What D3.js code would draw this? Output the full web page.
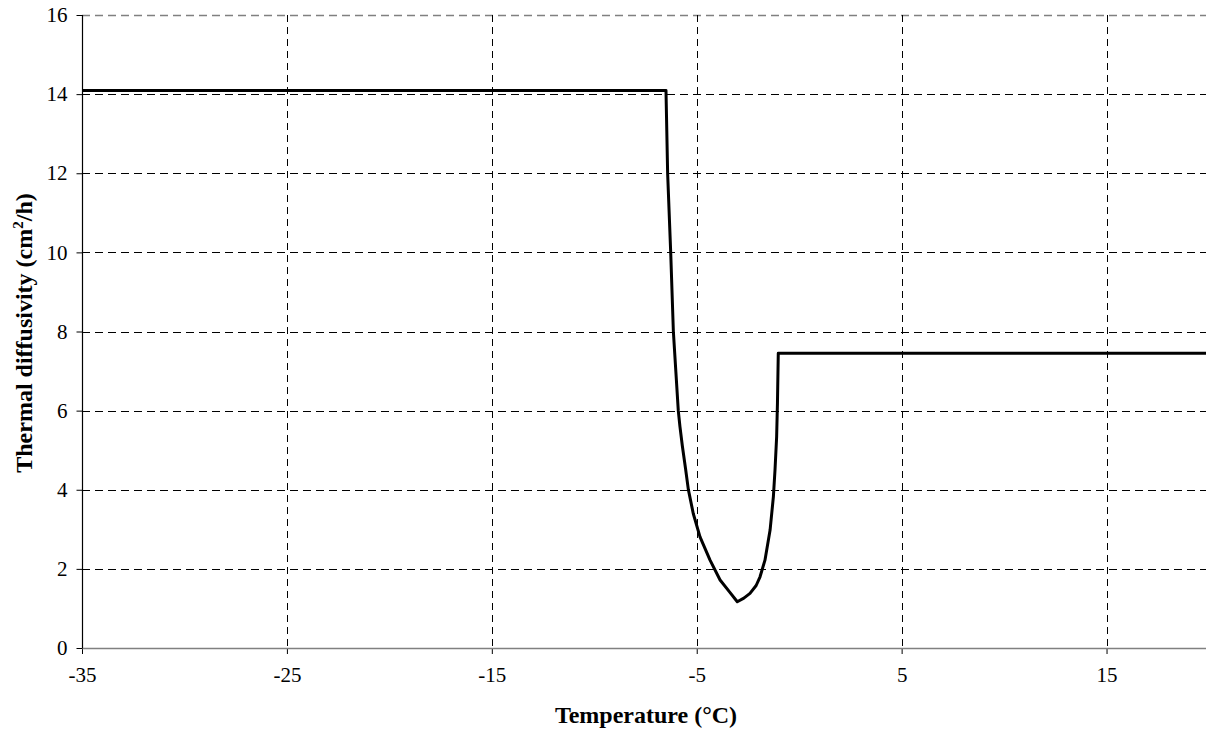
<!DOCTYPE html>
<html><head><meta charset="utf-8">
<script src="https://cdn.jsdelivr.net/npm/d3@7"></script>
<style>body{margin:0;background:#fff}svg{display:block}</style>
</head><body>
<svg id="c" width="1206" height="733"></svg>
<script>
const temperature = [-35, -6.5, -6.42, -6.27, -6.14, -6.02, -5.90, -5.82, -5.70, -5.55, -5.41, -5.17, -4.84, -4.35, -3.86, -3.40, -3.02, -2.70, -2.40, -2.10, -1.91, -1.67, -1.42, -1.26, -1.18, -1.10, -1.06, -1.02, 20];
const diffusivity = [14.09, 14.09, 12.0, 10.0, 8.0, 7.0, 6.0, 5.6, 5.1, 4.55, 4.01, 3.40, 2.81, 2.22, 1.72, 1.42, 1.17, 1.26, 1.38, 1.58, 1.80, 2.22, 2.98, 3.82, 4.50, 5.34, 6.2, 7.45, 7.45];
const xTicks = [-35, -25, -15, -5, 5, 15];
const yTicks = [0, 2, 4, 6, 8, 10, 12, 14, 16];
const xTitle = "Temperature (°C)";

const svg = d3.select("#c");
const x = d3.scaleLinear().domain([-35, 20]).range([82, 1209]);
const y = d3.scaleLinear().domain([0, 16]).range([648, 15]);
const font = "'Liberation Serif','Times New Roman',serif";

// horizontal gridlines
svg.append("g").selectAll("line").data(yTicks.filter(d => d > 0)).join("line")
  .attr("x1", 82).attr("x2", 1206)
  .attr("y1", d => Math.round(y(d)) + 0.5).attr("y2", d => Math.round(y(d)) + 0.5)
  .attr("stroke", d => d === 16 ? "#808080" : "#000").attr("stroke-width", d => d === 16 ? 1.5 : 1)
  .attr("stroke-dasharray", "8,5");
// vertical gridlines
svg.append("g").selectAll("line").data(xTicks.filter(d => d > -35)).join("line")
  .attr("x1", d => Math.round(x(d)) + 0.5).attr("x2", d => Math.round(x(d)) + 0.5)
  .attr("y1", 15).attr("y2", 648)
  .attr("stroke", "#000").attr("stroke-width", 1)
  .attr("stroke-dasharray", "7,5");

// axes
const xAxis = d3.axisBottom(x).tickValues(xTicks).tickSize(6).tickPadding(13).tickFormat(d => String(d));
const gx = svg.append("g").attr("transform", "translate(0,648)").call(xAxis);
gx.select(".domain").remove();
gx.append("line").attr("x1", 82).attr("x2", 1206).attr("y1", 0.5).attr("y2", 0.5).attr("stroke", "#808080").attr("stroke-width", 1.5);
gx.selectAll(".tick line").attr("stroke", "#000");
gx.selectAll(".tick text").attr("font-family", font).attr("font-size", 21).attr("fill", "#000");

const yAxis = d3.axisLeft(y).tickValues(yTicks).tickSize(6).tickPadding(9).tickFormat(d => String(d));
const gy = svg.append("g").attr("transform", "translate(82.5,0)").call(yAxis);
gy.select(".domain").attr("d", `M0,${y(16)}V${y(0)}`).attr("stroke", "#000").attr("stroke-width", 1.2);
gy.selectAll(".tick line").attr("stroke", "#000");
gy.selectAll(".tick text").attr("font-family", font).attr("font-size", 21).attr("fill", "#000");

// line
const pts = temperature.map((t, i) => [t, diffusivity[i]]);
svg.append("path").datum(pts)
  .attr("d", d3.line().x(d => x(d[0])).y(d => y(d[1])))
  .attr("fill", "none").attr("stroke", "#000").attr("stroke-width", 3).attr("stroke-linejoin", "round");

// titles
svg.append("text").attr("x", 646).attr("y", 723).attr("text-anchor", "middle")
  .attr("font-family", font).attr("font-weight", "bold").attr("font-size", 24).text(xTitle);
const yt = svg.append("text").attr("transform", "translate(32,333) rotate(-90)").attr("text-anchor", "middle")
  .attr("font-family", font).attr("font-weight", "bold").attr("font-size", 24);
yt.append("tspan").text("Thermal diffusivity (cm");
yt.append("tspan").attr("font-size", 15).attr("dy", -9).text("2");
yt.append("tspan").attr("dy", 9).text("/h)");
</script>
</body></html>
